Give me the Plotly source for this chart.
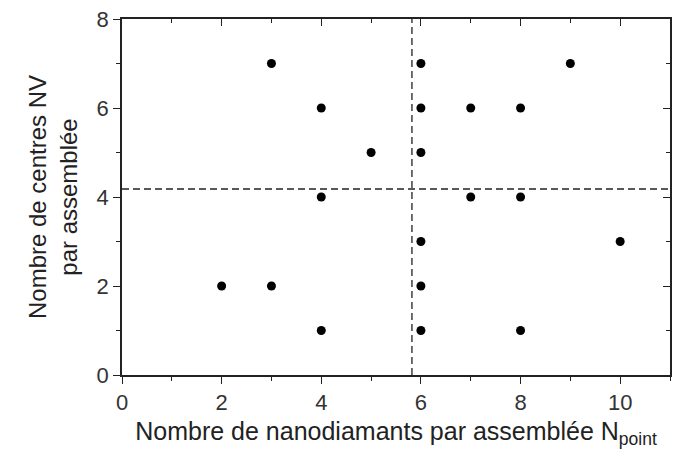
import plotly.graph_objects as go

# Data
n_point = [2, 3, 3, 4, 4, 4, 5, 6, 6, 6, 6, 6, 6, 7, 7, 8, 8, 8, 9, 10]
n_nv    = [2, 2, 7, 6, 4, 1, 5, 7, 6, 5, 3, 2, 1, 6, 4, 6, 4, 1, 7, 3]
mean_x = 5.82
mean_y = 4.18
x_ticks = [0, 2, 4, 6, 8, 10]
y_ticks = [0, 2, 4, 6, 8]
x_minor = [1, 3, 5, 7, 9, 11]
y_minor = [1, 3, 5, 7]

FONT = "Liberation Sans"
AX = "#222222"

fig = go.Figure()
fig.add_trace(go.Scatter(
    x=n_point, y=n_nv, mode="markers",
    marker=dict(color="black", size=9, line=dict(width=0)),
    showlegend=False, hoverinfo="skip"))

fig.add_vline(x=mean_x, line=dict(color="#222", width=1.3, dash="7px,4px"))
fig.add_hline(y=mean_y, line=dict(color="#222", width=1.3, dash="7px,4px"))

common = dict(showgrid=False, zeroline=False, showline=True, linecolor=AX, linewidth=1.5,
              tickcolor=AX, tickwidth=1.3, tickfont=dict(family=FONT, size=22, color="#333"))

fig.update_layout(
    width=684, height=457,
    margin=dict(l=122, r=14, t=19, b=82, autoexpand=False),
    paper_bgcolor="white", plot_bgcolor="white",
    font=dict(family=FONT, color="#222"),
    xaxis=dict(range=[0, 11], tickvals=x_ticks, ticks="outside", ticklen=7,
               minor=dict(tickvals=x_minor, ticks="outside", ticklen=4, tickcolor=AX, tickwidth=1.3),
               title=dict(text="Nombre de nanodiamants par assemblée N<sub>point</sub>",
                          font=dict(family=FONT, size=25, color="#222"), standoff=8),
               automargin=False, **common),
    yaxis=dict(range=[0, 8], tickvals=y_ticks, ticks="outside", ticklen=7,
               minor=dict(tickvals=y_minor, ticks="outside", ticklen=4, tickcolor=AX, tickwidth=1.3),
               title=dict(text="Nombre de centres NV<br>par assemblée",
                          font=dict(family=FONT, size=24, color="#222"), standoff=12),
               automargin=False, **common),
    xaxis2=dict(overlaying="x", side="top", range=[0, 11], tickvals=x_ticks, ticks="inside", ticklen=7,
                minor=dict(tickvals=x_minor, ticks="inside", ticklen=4, tickcolor=AX, tickwidth=1.3),
                showticklabels=False, showgrid=False, zeroline=False, showline=True,
                linecolor=AX, linewidth=1.5, tickcolor=AX, tickwidth=1.3),
    yaxis2=dict(overlaying="y", side="right", range=[0, 8], tickvals=y_ticks, ticks="inside", ticklen=7,
                minor=dict(tickvals=y_minor, ticks="inside", ticklen=4, tickcolor=AX, tickwidth=1.3),
                showticklabels=False, showgrid=False, zeroline=False, showline=True,
                linecolor=AX, linewidth=1.5, tickcolor=AX, tickwidth=1.3),
)
fig.add_trace(go.Scatter(x=[None], y=[None], xaxis="x2", yaxis="y2", showlegend=False, hoverinfo="skip"))

fig.write_html("out.html", config={"displayModeBar": False},
               post_script="document.body.style.margin='0';")
